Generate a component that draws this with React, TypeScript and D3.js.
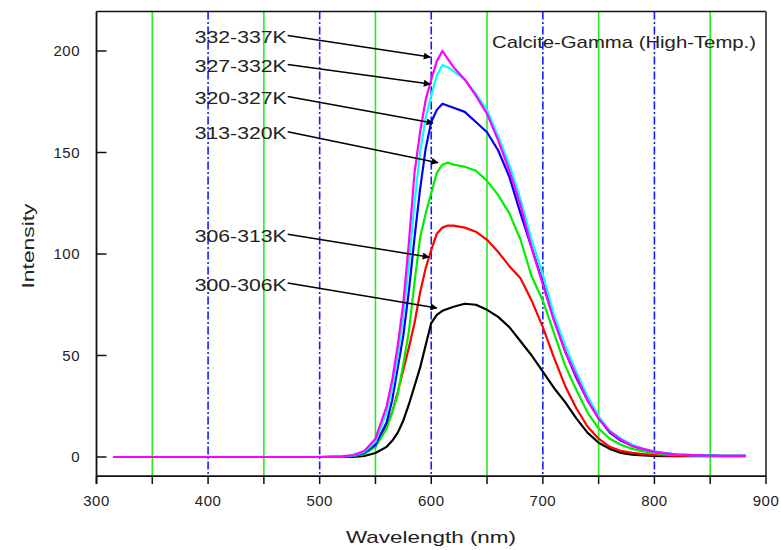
import React from 'react';
import * as d3 from 'd3';

// ---- data ----
const wavelengths = [315, 500, 520, 530, 540, 550, 560, 565, 570, 575, 580, 585, 590, 595, 600, 605, 610, 615, 620, 630, 640, 650, 660, 670, 680, 690, 700, 710, 720, 730, 740, 750, 760, 770, 780, 790, 800, 810, 820, 840, 860, 882];

const k300_306 = [0, 0, 0, 0, 0.5, 2, 5, 8, 12, 18, 26, 35, 44, 55, 66, 70, 72, 73, 74, 75.5, 75, 72.5, 69, 64, 57, 50, 42, 34, 27, 19, 12, 7, 4, 2, 1.2, 0.8, 0.5, 0.4, 0.4, 0.4, 0.4, 0.4];
const k306_313 = [0, 0, 0.1, 0.5, 1.5, 6, 16, 22, 32, 43, 54, 66, 81, 93, 102, 110, 113, 114, 114, 113, 111, 107, 101, 94, 88, 77, 64, 49, 35, 24, 15, 9, 5, 3, 2, 1.4, 1, 0.8, 0.7, 0.6, 0.5, 0.5];
const k313_320 = [0, 0, 0.2, 0.5, 1.5, 5, 14, 22, 31, 46, 62, 86, 108, 120, 130, 140, 144, 145, 144, 143, 141, 136, 129, 120, 107, 89, 77, 61, 45, 33, 22, 14, 9, 6, 4, 2.8, 2, 1.3, 1, 0.8, 0.6, 0.6];
const k320_327 = [0, 0, 0.2, 0.6, 2, 6, 17, 28, 44, 60, 82, 108, 132, 152, 165, 171, 174, 173, 172, 170, 165, 160, 151, 138, 120, 103, 86, 68, 52, 39, 28, 19, 12, 8, 5.5, 3.8, 2.6, 1.8, 1.2, 0.8, 0.6, 0.6];
const k327_332 = [0, 0, 0.3, 0.8, 2.5, 7.5, 22, 34, 50, 70, 95, 125, 150, 167, 178, 188, 193, 192, 190, 186, 179, 171, 158, 144, 127, 107, 90, 70, 55, 42, 30, 20, 13, 9, 6, 4, 2.8, 1.8, 1.2, 0.8, 0.6, 0.6];
const k332_337 = [0, 0, 0.3, 1, 3, 9, 25, 38, 55, 76, 106, 140, 160, 176, 186, 195, 200, 196, 192, 186, 178, 169, 156, 141, 124, 103, 85, 67, 52, 40, 28, 19, 12.5, 8.5, 5.5, 4, 2.6, 1.8, 1.2, 0.8, 0.6, 0.6];

const seriesNames = ['300-306K', '306-313K', '313-320K', '320-327K', '327-332K', '332-337K'];
const seriesValues = [k300_306, k306_313, k313_320, k320_327, k327_332, k332_337];
const seriesColors = ['#000000', '#ff0000', '#00ee00', '#0000ff', '#00ffff', '#ff00ff'];

// annotation arrows: label anchor and arrow target, in data units
const labelNm = [388, 388, 388, 388, 388, 388];
const labelVal = [82, 106, 156.5, 173.9, 189.7, 203.9];
const targetNm = [605, 598, 606, 601.5, 599, 599];
const targetVal = [73.4, 98.5, 145, 164.5, 183.7, 197];

const xTickValues = [300, 400, 500, 600, 700, 800, 900];
const xMinorTicks = [300, 350, 400, 450, 500, 550, 600, 650, 700, 750, 800, 850, 900];
const yTickValues = [0, 50, 100, 150, 200];
const greenGrid = [350, 450, 550, 650, 750, 850];
const blueGrid = [400, 500, 600, 700, 800];

const title = 'Calcite-Gamma (High-Temp.)';
const xTitle = 'Wavelength (nm)';
const yTitle = 'Intensity';

export default function App() {
  const W = 781, H = 550;
  const x = d3.scaleLinear().domain([300, 900]).range([96.5, 766]);
  const y = d3.scaleLinear().domain([0, 200]).range([457, 51]);
  const yMin = -9.4, yMax = 219.5;
  const top = y(yMax), bottom = y(yMin), left = x(300), right = x(900);
  const font = 'Liberation Sans, Arial, sans-serif';

  const line = d3.line<number>()
    .x((_, i) => x(wavelengths[i]))
    .y((d) => y(d));

  return (
    <svg width={W} height={H} style={{ position: 'absolute', left: 0, top: 0, background: '#fff' }} fontFamily={font}>
      <defs>
        <marker id="ah" viewBox="0 0 10 10" refX="9" refY="5" markerWidth="9" markerHeight="7" markerUnits="userSpaceOnUse" orient="auto">
          <path d="M0,0 L10,5 L0,10 z" fill="#000" />
        </marker>
        <clipPath id="plot">
          <rect x={left} y={top} width={right - left} height={bottom - top} />
        </clipPath>
      </defs>
      <rect x={0} y={0} width={W} height={H} fill="#fff" />
      {greenGrid.map((g) => (
        <line key={'g' + g} x1={x(g)} x2={x(g)} y1={top} y2={bottom} stroke="#22ee22" strokeWidth={1.6} />
      ))}
      {blueGrid.map((g) => (
        <line key={'b' + g} x1={x(g)} x2={x(g)} y1={top} y2={bottom} stroke="#1a1aff" strokeWidth={1.6} strokeDasharray="8 2.5 2 2.5" />
      ))}
      <g clipPath="url(#plot)">
        {seriesValues.map((vals, i) => (
          <path key={seriesNames[i]} d={line(vals) || ''} fill="none" stroke={seriesColors[i]} strokeWidth={2.2} strokeLinejoin="round" />
        ))}
      </g>
      {seriesNames.map((name, i) => {
        const lx = x(labelNm[i]);
        const ly = y(labelVal[i]);
        return (
          <g key={'lab' + name}>
            <line x1={lx + 93} y1={ly - 7.5} x2={x(targetNm[i])} y2={y(targetVal[i])} stroke="#000" strokeWidth={1.5} markerEnd="url(#ah)" />
            <text x={lx} y={ly} fontSize={17} textLength={92} lengthAdjust="spacingAndGlyphs" fill="#222">{name}</text>
          </g>
        );
      })}
      <text x={492} y={48} fontSize={17} textLength={264} lengthAdjust="spacingAndGlyphs" fill="#222">{title}</text>
      {/* frame */}
      <line x1={left} x2={right} y1={top} y2={top} stroke="#111" strokeWidth={1.5} />
      <line x1={right} x2={right} y1={top} y2={bottom} stroke="#555" strokeWidth={2} />
      <line x1={left} x2={left} y1={top} y2={bottom + 8} stroke="#111" strokeWidth={1.8} />
      <line x1={left} x2={right} y1={bottom} y2={bottom} stroke="#111" strokeWidth={1.8} />
      {xMinorTicks.map((t) => (
        <line key={'xt' + t} x1={x(t)} x2={x(t)} y1={bottom} y2={bottom + 8} stroke="#111" strokeWidth={1.5} />
      ))}
      {xTickValues.map((t) => (
        <text key={'xl' + t} x={x(t)} y={506} fontSize={15} textAnchor="middle" letterSpacing={0.5} fill="#222">{t}</text>
      ))}
      {yTickValues.map((t) => (
        <g key={'yt' + t}>
          <line x1={left} x2={left + 10} y1={y(t)} y2={y(t)} stroke="#111" strokeWidth={1.5} />
          <text x={80} y={y(t) + 5} fontSize={15} textAnchor="end" letterSpacing={0.5} fill="#222">{t}</text>
        </g>
      ))}
      <text x={431} y={543} fontSize={17} textAnchor="middle" textLength={170} lengthAdjust="spacingAndGlyphs" fill="#222">{xTitle}</text>
      <text transform={`translate(34,${246}) rotate(-90)`} fontSize={17} textAnchor="middle" textLength={85} lengthAdjust="spacingAndGlyphs" fill="#222">{yTitle}</text>
    </svg>
  );
}
